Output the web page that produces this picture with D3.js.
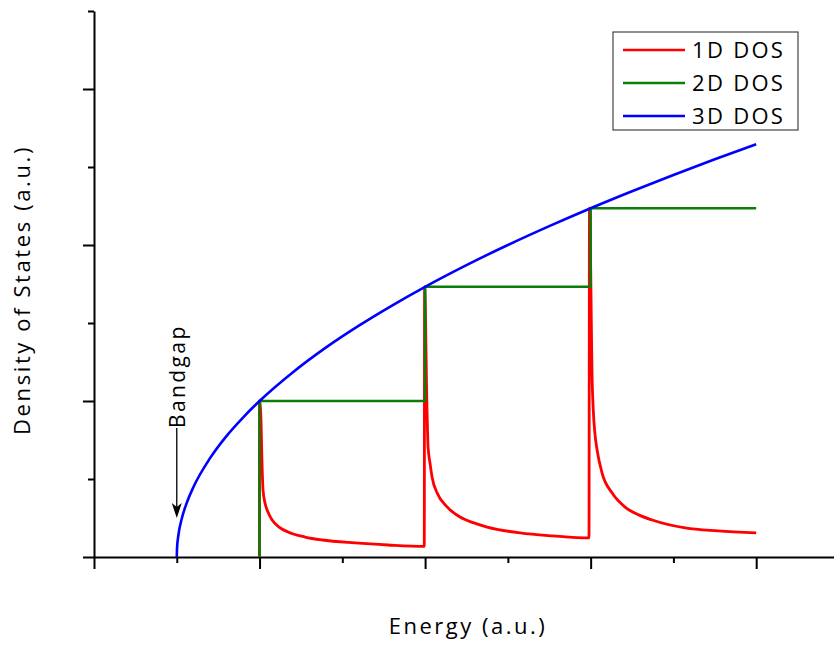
<!DOCTYPE html>
<html>
<head>
<meta charset="utf-8">
<script src="https://cdn.jsdelivr.net/npm/d3@7"></script>
<style>
  html, body { margin: 0; padding: 0; background: #fff; }
  svg { display: block; }
  text { font-family: "Open Sans", "Noto Sans", sans-serif; fill: #000; }
</style>
</head>
<body>
<svg id="chart" width="834" height="645"></svg>
<script>
// Energy axis (a.u.)
const energyMajorTicks = [0, 1, 2, 3, 4];
const energyMinorTicks = [0.5, 1.5, 2.5, 3.5];
const energyAxisEnd = 4.47;

// Density-of-states axis (a.u.)
const dosMajorTicks = [0, 1, 2, 3];
const dosMinorTicks = [0.5, 1.5, 2.5, 3.5];
const dosAxisTop = 3.5;

// 1D DOS: van Hove spikes at each subband edge
const dos1dEnergy = [0.999, 1.000, 1.008, 1.015, 1.021, 1.033, 1.050, 1.076, 1.120, 1.172, 1.275, 1.378, 1.577, 1.776, 1.995,
                     1.997, 2.012, 2.018, 2.030, 2.042, 2.073, 2.133, 2.211, 2.290, 2.375, 2.574, 2.773, 2.990,
                     2.993, 3.010, 3.015, 3.025, 3.039, 3.069, 3.130, 3.208, 3.290, 3.372, 3.571, 3.770, 4.000];
const dos1dValue  = [0.000, 1.000, 0.900, 0.600, 0.430, 0.346, 0.290, 0.237, 0.190, 0.160, 0.128, 0.109, 0.090, 0.077, 0.068,
                     1.732, 0.923, 0.705, 0.600, 0.513, 0.410, 0.321, 0.256, 0.220, 0.192, 0.154, 0.135, 0.122,
                     2.236, 1.100, 0.960, 0.800, 0.686, 0.538, 0.410, 0.320, 0.270, 0.237, 0.186, 0.167, 0.154];

// 2D DOS: staircase
const dos2dEnergy = [1, 1, 2, 2, 3, 3, 4];
const dos2dValue  = [0, 1, 1, 1.732, 1.732, 2.236, 2.236];

// 3D DOS: square-root rise from the band edge
const dos3dEnergy = [0.5, 0.502, 0.51, 0.53, 0.56, 0.6, 0.7, 0.8, 0.9, 1.0, 1.2, 1.4, 1.6, 1.8, 2.0, 2.25, 2.5, 2.75, 3.0, 3.25, 3.5, 3.75, 4.0];
const dos3dValue  = [0, 0.063, 0.141, 0.245, 0.346, 0.447, 0.632, 0.775, 0.894, 1.0, 1.183, 1.342, 1.483, 1.612, 1.732, 1.871, 2.0, 2.121, 2.236, 2.345, 2.449, 2.550, 2.646];

const seriesNames = ["1D DOS", "2D DOS", "3D DOS"];
const seriesColors = ["#ff0000", "#0a7d0a", "#0000ff"];

const bandgapEnergy = 0.5;
const bandgapLabel = "Bandgap";
const xTitle = "Energy (a.u.)";
const yTitle = "Density of States (a.u.)";

const svg = d3.select("#chart");

const x = d3.scaleLinear().domain([0, energyAxisEnd]).range([94, 834]);
const y = d3.scaleLinear().domain([0, dosAxisTop]).range([557, 11]);

const zip = (xs, ys) => xs.map((e, i) => [e, ys[i]]);
const series = [
  zip(dos1dEnergy, dos1dValue),
  zip(dos2dEnergy, dos2dValue),
  zip(dos3dEnergy, dos3dValue)
];

// Axes
function styleAxis(g) {
  g.selectAll("path, line").attr("stroke", "#000").attr("stroke-width", 2);
  g.selectAll("text").remove();
}

svg.append("g")
  .attr("transform", `translate(0,${y(0)})`)
  .call(d3.axisBottom(x).tickValues(energyMajorTicks).tickSize(12).tickSizeOuter(0).tickFormat(""))
  .call(styleAxis);
svg.append("g")
  .attr("transform", `translate(0,${y(0)})`)
  .call(d3.axisBottom(x).tickValues(energyMinorTicks).tickSize(6).tickFormat(""))
  .call(g => g.select(".domain").remove())
  .call(styleAxis);

svg.append("g")
  .attr("transform", `translate(${x(0)},0)`)
  .call(d3.axisLeft(y).tickValues(dosMajorTicks).tickSize(11).tickSizeOuter(0).tickFormat(""))
  .call(styleAxis);
svg.append("g")
  .attr("transform", `translate(${x(0)},0)`)
  .call(d3.axisLeft(y).tickValues(dosMinorTicks).tickSize(6).tickFormat(""))
  .call(g => g.select(".domain").remove())
  .call(styleAxis);

// Curves: the staircase is straight, the 1D and 3D curves are smoothed
const straight = d3.line().x(d => x(d[0])).y(d => y(d[1]));
const smooth = d3.line().x(d => x(d[0])).y(d => y(d[1])).curve(d3.curveMonotoneX);

series.forEach((pts, i) => {
  svg.append("path")
    .datum(pts)
    .attr("fill", "none")
    .attr("stroke", seriesColors[i])
    .attr("stroke-width", i === 0 ? 2.8 : 2.6)
    .attr("stroke-linejoin", "round")
    .attr("d", i === 1 ? straight : smooth);
});

// Bandgap marker
const bx = x(bandgapEnergy);
svg.append("line")
  .attr("x1", bx).attr("x2", bx)
  .attr("y1", 428).attr("y2", 510)
  .attr("stroke", "#000").attr("stroke-width", 1.3);
svg.append("path")
  .attr("d", `M${bx},518 L${bx - 5},503 L${bx},507 L${bx + 5},503 Z`)
  .attr("fill", "#000");
svg.append("text")
  .attr("transform", `translate(${bx + 8},428) rotate(-90)`)
  .attr("font-size", 21)
  .attr("letter-spacing", 2.4)
  .text(bandgapLabel);

// Axis titles
svg.append("text")
  .attr("x", 468).attr("y", 634)
  .attr("text-anchor", "middle")
  .attr("font-size", 22)
  .attr("letter-spacing", 2.5)
  .text(xTitle);
svg.append("text")
  .attr("transform", "translate(30,290) rotate(-90)")
  .attr("text-anchor", "middle")
  .attr("font-size", 22)
  .attr("letter-spacing", 2.6)
  .text(yTitle);

// Legend
const legend = svg.append("g");
legend.append("rect")
  .attr("x", 613).attr("y", 32).attr("width", 185).attr("height", 98)
  .attr("fill", "#fff").attr("stroke", "#444").attr("stroke-width", 1.2);
seriesNames.forEach((name, i) => {
  const ly = 50 + i * 33;
  legend.append("line")
    .attr("x1", 623).attr("x2", 685).attr("y1", ly).attr("y2", ly)
    .attr("stroke", seriesColors[i]).attr("stroke-width", 2.6);
  legend.append("text")
    .attr("x", 692).attr("y", ly + 8)
    .attr("font-size", 22)
    .attr("letter-spacing", 2.3)
    .text(name);
});
</script>
</body>
</html>
